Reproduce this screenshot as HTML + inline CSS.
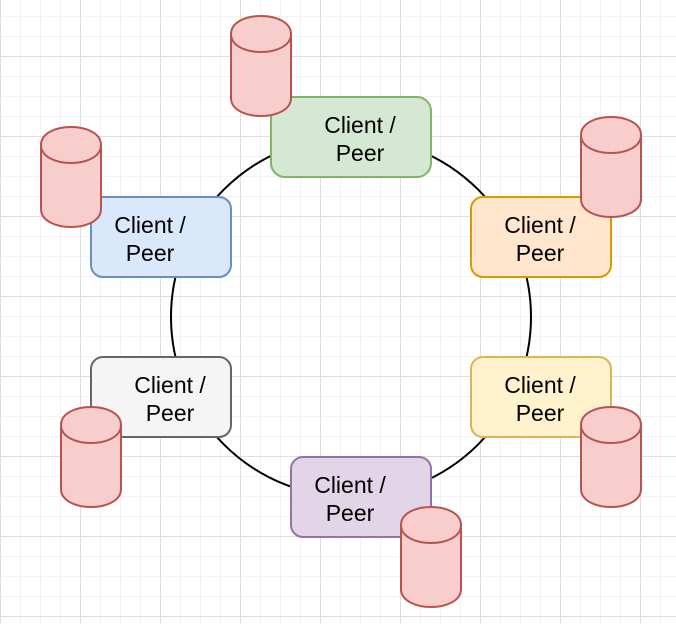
<!DOCTYPE html>
<html><head><meta charset="utf-8"><style>
html,body{margin:0;padding:0;background:#fff}
svg{display:block}
text{font-family:"Liberation Sans",Helvetica,Arial,sans-serif;font-size:23px;fill:#000;text-anchor:middle}
</style></head><body>
<svg width="676" height="624" viewBox="0 0 676 624" xmlns="http://www.w3.org/2000/svg">
<defs>
<pattern id="minor" width="20" height="20" patternUnits="userSpaceOnUse" x="0" y="16">
<path d="M0 0.5H20M0.5 0V20" stroke="#f2f2f2" stroke-width="1" fill="none"/>
</pattern>
<pattern id="major" width="80" height="80" patternUnits="userSpaceOnUse" x="0" y="56">
<path d="M0 0.5H80M0.5 0V80" stroke="#dedede" stroke-width="1" fill="none"/>
</pattern>
<g id="cyl">
<path d="M0 18 C0 -6 60 -6 60 18 L60 82 C60 106 0 106 0 82 Z" fill="#f8cecc" stroke="#b85450" stroke-width="2"/>
<path d="M0 18 C0 42 60 42 60 18" fill="none" stroke="#b85450" stroke-width="2"/>
</g>
</defs>
<rect width="676" height="624" fill="url(#minor)"/>
<rect width="676" height="624" fill="url(#major)"/>
<circle cx="351" cy="317" r="180" fill="none" stroke="#000" stroke-width="2"/>

<rect x="271" y="97" width="160" height="80" rx="14" fill="#d5e8d4" stroke="#82b366" stroke-width="2"/>
<text x="360" y="133">Client /</text><text x="360" y="161">Peer</text>

<rect x="471" y="197" width="140" height="80" rx="12" fill="#ffe6cc" stroke="#d79b00" stroke-width="2"/>
<text x="540" y="233">Client /</text><text x="540" y="261">Peer</text>

<rect x="471" y="357" width="140" height="80" rx="12" fill="#fff2cc" stroke="#d6b656" stroke-width="2"/>
<text x="540" y="393">Client /</text><text x="540" y="421">Peer</text>

<rect x="291" y="457" width="140" height="80" rx="12" fill="#e1d5e7" stroke="#9673a6" stroke-width="2"/>
<text x="350" y="493">Client /</text><text x="350" y="521">Peer</text>

<rect x="91" y="357" width="140" height="80" rx="12" fill="#f5f5f5" stroke="#666666" stroke-width="2"/>
<text x="170" y="393">Client /</text><text x="170" y="421">Peer</text>

<rect x="91" y="197" width="140" height="80" rx="12" fill="#dae8fc" stroke="#6c8ebf" stroke-width="2"/>
<text x="150" y="233">Client /</text><text x="150" y="261">Peer</text>

<use href="#cyl" x="231" y="16"/>
<use href="#cyl" x="41" y="127"/>
<use href="#cyl" x="581" y="117"/>
<use href="#cyl" x="581" y="407"/>
<use href="#cyl" x="401" y="507"/>
<use href="#cyl" x="61" y="407"/>
</svg>
</body></html>
